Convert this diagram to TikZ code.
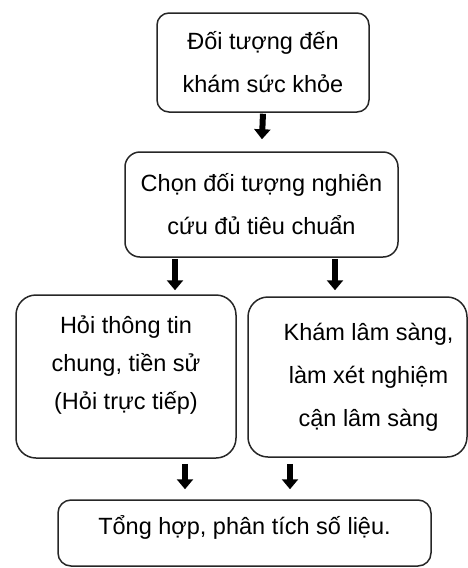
\documentclass[tikz,border=0pt]{standalone}
\usepackage{fontspec}
\setmainfont{Liberation Sans}
\usetikzlibrary{arrows.meta}
\tikzset{
    flow-box/.style = {draw=black!85, line width=1.5pt, rectangle, rounded corners=#1, align=center, inner sep=0pt, font=\fontsize{23.5}{43}\selectfont},
    flow-box/.default = 14pt,
    flow-arrow/.style = {line width=6pt, -{Triangle[length=10pt, width=16pt]}},
}

\begin{document}
\begin{tikzpicture}[x=1pt, y=-1pt]
\useasboundingbox (0,0) rectangle (468,568);
\node[flow-box=12pt, minimum width=212pt, minimum height=99pt] (doituong) at (263,62.5) {Đối tượng đến\\khám sức khỏe};
\node[flow-box=15pt, minimum width=273pt, minimum height=105pt] (chon) at (261.5,204.5) {Chọn đối tượng nghiên\\cứu đủ tiêu chuẩn};
\node[flow-box=20pt, minimum width=220pt, minimum height=163pt, text depth=27pt, font=\fontsize{23.5}{38}\selectfont] (hoi) at (126,376.5) {Hỏi thông tin\\chung, tiền sử\\(Hỏi trực tiếp)};
\node[flow-box=20pt, minimum width=219pt, minimum height=160pt] (kham) at (357.5,377) {\hspace*{22pt}Khám lâm sàng,\\\hspace*{22pt}làm xét nghiệm\\\hspace*{22pt}cận lâm sàng};
\node[flow-box=13pt, minimum width=373pt, minimum height=66pt, text depth=15pt] (tonghop) at (244.5,533) {Tổng hợp, phân tích số liệu.};
% arrows between the steps
\draw[flow-arrow, shorten <=1pt, shorten >=12pt] (doituong.south) -- (chon.north);
\draw[flow-arrow, shorten <=1pt, shorten >=4pt] ([xshift=49pt]hoi.north |- chon.south) -- ([xshift=49pt]hoi.north);
\draw[flow-arrow, shorten <=1pt, shorten >=6pt] ([xshift=-22.5pt]kham.north |- chon.south) -- ([xshift=-22.5pt]kham.north);
\draw[flow-arrow, shorten <=5pt, shorten >=10pt] ([xshift=59pt]hoi.south) -- ([xshift=59pt]hoi.south |- tonghop.north);
\draw[flow-arrow, shorten <=6pt, shorten >=10pt] ([xshift=-67.5pt]kham.south) -- ([xshift=-67.5pt]kham.south |- tonghop.north);
\end{tikzpicture}
\end{document}
